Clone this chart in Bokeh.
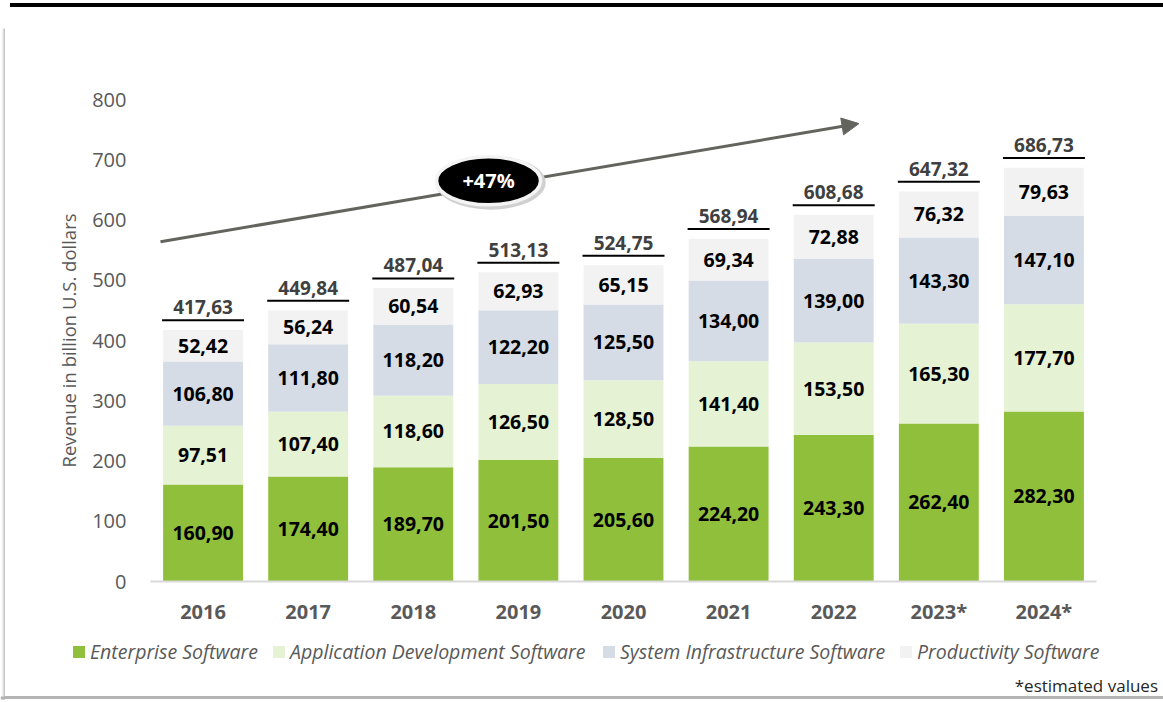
from bokeh.plotting import figure
from bokeh.layouts import row, column
from bokeh.models import (Range1d, FixedTicker, ColumnDataSource, Arrow, NormalHead,
                          BoxAnnotation, Div)
from bokeh.core.properties import value
from bokeh.embed import file_html
from bokeh.resources import INLINE

years = ["2016", "2017", "2018", "2019", "2020", "2021", "2022", "2023*", "2024*"]
enterprise = [160.90, 174.40, 189.70, 201.50, 205.60, 224.20, 243.30, 262.40, 282.30]
appdev = [97.51, 107.40, 118.60, 126.50, 128.50, 141.40, 153.50, 165.30, 177.70]
sysinfra = [106.80, 111.80, 118.20, 122.20, 125.50, 134.00, 139.00, 143.30, 147.10]
productivity = [52.42, 56.24, 60.54, 62.93, 65.15, 69.34, 72.88, 76.32, 79.63]
totals = [417.63, 449.84, 487.04, 513.13, 524.75, 568.94, 608.68, 647.32, 686.73]
series_names = ["Enterprise Software", "Application Development Software",
                "System Infrastructure Software", "Productivity Software"]
colors = ["#8fbf3b", "#e5f2d3", "#d6dce5", "#f2f2f2"]
y_ticks = [0, 100, 200, 300, 400, 500, 600, 700, 800]
growth_label = "+47%"
footnote = "*estimated values"
arrow_start = (-0.405, 564)
arrow_end = (6.24, 760)
bubble_pos = (2.716, 665)

FONT = "Open Sans"
W, H = 1163, 702
EDGE_W = 5
TOP_H = 30
CHART_H = 600
BOTTOM_H = H - TOP_H - CHART_H
FL, FR, FT, FB = 150, 1096, 99, 581          # frame edges in page pixels
LEGEND_SWATCH_X = [73, 273, 603, 900]         # legend layout (page pixels)
LEGEND_Y = 652


def fmt(v):
    return f"{v:.2f}".replace(".", ",")


# ---- left card edge (thin strip figure)
edge = figure(width=EDGE_W, height=H, output_backend="svg", toolbar_location=None,
              x_range=Range1d(0, EDGE_W), y_range=Range1d(H, 0), min_border=0)
edge.outline_line_color = None
edge.axis.visible = False
edge.grid.visible = False
for l, r, t, b, c in [(2, 3, 28, H - 3, "#e2e2e2"), (3, 5, 28, H - 3, "#c6c6c6"),
                      (0, 5, 696, 699, "#b4b4b4")]:
    edge.add_layout(BoxAnnotation(left=l, right=r, top=t, bottom=b, fill_color=c,
                                  fill_alpha=1, line_color=None))

# ---- top strip with black rule
top = Div(width=W - EDGE_W, height=TOP_H, margin=0,
          text=f'<div style="position:relative;width:{W - EDGE_W}px;height:{TOP_H}px">'
               f'<div style="position:absolute;left:{10 - EDGE_W}px;top:2.5px;'
               f'width:{W - 10}px;height:4.5px;background:#000"></div></div>')

# ---- main chart
x = list(range(len(years)))
src = ColumnDataSource(dict(x=x, ent=enterprise, app=appdev, sys=sysinfra, prod=productivity))

p = figure(width=W - EDGE_W, height=CHART_H, output_backend="svg", toolbar_location=None,
           x_range=Range1d(-0.5, len(years) - 0.5), y_range=Range1d(0, 800),
           min_border_left=FL - EDGE_W, min_border_right=W - FR, min_border_top=FT - TOP_H,
           min_border_bottom=TOP_H + CHART_H - FB)
p.outline_line_color = None
p.background_fill_color = "white"
p.border_fill_color = "white"
p.xgrid.visible = False
p.ygrid.visible = False

p.vbar_stack(["ent", "app", "sys", "prod"], x="x", width=0.76, color=colors,
             line_color=None, source=src)

bottoms = [0] * len(x)
for vals in [enterprise, appdev, sysinfra, productivity]:
    mids = [b + v / 2 for b, v in zip(bottoms, vals)]
    p.text(x=x, y=mids, text=[fmt(v) for v in vals], text_align="center",
           text_baseline="middle", text_font=value(FONT), text_font_style="bold",
           text_font_size="19.5px", text_color="black")
    bottoms = [b + v for b, v in zip(bottoms, vals)]

line_y = [t + 16 for t in totals]
p.segment(x0=[i - 0.39 for i in x], x1=[i + 0.39 for i in x], y0=line_y, y1=line_y,
          line_color="black", line_width=2)
p.text(x=x, y=line_y, text=[fmt(t) for t in totals], text_align="center",
       text_baseline="bottom", y_offset=-6, text_font=value(FONT), text_font_style="bold",
       text_font_size="19px", text_color="#404040")

p.add_layout(Arrow(end=NormalHead(size=17, fill_color="#64645f", line_color="#64645f"),
                   x_start=arrow_start[0], y_start=arrow_start[1],
                   x_end=arrow_end[0], y_end=arrow_end[1],
                   line_color="#64645f", line_width=3, level="underlay"))

bx, by = bubble_pos
p.ellipse(x=[bx + 0.02], y=[by - 3], width=[110], height=[54], width_units="screen",
          height_units="screen", fill_color="#d0d0d0", line_color=None)
p.ellipse(x=[bx], y=[by], width=[104], height=[48], width_units="screen", height_units="screen",
          fill_color="black", line_color="#f4f4f4", line_width=3.5)
p.text(x=[bx], y=[by], text=[growth_label], text_align="center", text_baseline="middle",
       text_font=value(FONT), text_font_style="bold", text_font_size="20px", text_color="white")

p.yaxis.ticker = FixedTicker(ticks=y_ticks)
p.yaxis.axis_line_color = None
p.yaxis.major_tick_line_color = None
p.yaxis.minor_tick_line_color = None
p.yaxis.major_label_text_font = FONT
p.yaxis.major_label_text_font_size = "20px"
p.yaxis.major_label_text_color = "#595959"
p.yaxis.major_label_standoff = 18
p.yaxis.axis_label = "Revenue in billion U.S. dollars"
p.yaxis.axis_label_text_font = FONT
p.yaxis.axis_label_text_font_size = "18.5px"
p.yaxis.axis_label_text_font_style = "normal"
p.yaxis.axis_label_text_color = "#595959"
p.yaxis.axis_label_standoff = 8

p.xaxis.ticker = FixedTicker(ticks=x)
p.xaxis.major_label_overrides = {i: yy for i, yy in zip(x, years)}
p.xaxis.axis_line_color = "#d9d9d9"
p.xaxis.axis_line_width = 2
p.xaxis.major_tick_line_color = None
p.xaxis.minor_tick_line_color = None
p.xaxis.major_label_text_font = FONT
p.xaxis.major_label_text_font_style = "bold"
p.xaxis.major_label_text_font_size = "20px"
p.xaxis.major_label_text_color = "#595959"
p.xaxis.major_label_standoff = 10

# ---- legend strip (HTML)
y0 = TOP_H + CHART_H
parts = []
for name, c, lx in zip(series_names, colors, LEGEND_SWATCH_X):
    parts.append(f'<div style="position:absolute;left:{lx - EDGE_W}px;top:{LEGEND_Y - 6 - y0}px;'
                 f'width:12px;height:12px;background:{c}"></div>')
    parts.append(f'<div style="position:absolute;left:{lx + 17 - EDGE_W}px;'
                 f'top:{LEGEND_Y - 12 - y0}px;height:24px;line-height:24px;white-space:nowrap;'
                 f'font-style:italic;font-size:19.5px;color:#595959">{name}</div>')
parts.append(f'<div style="position:absolute;right:5px;top:{686 - 12 - y0}px;height:24px;'
             f'line-height:24px;white-space:nowrap;font-size:17px;color:#262626">{footnote}</div>')
parts.append(f'<div style="position:absolute;left:0px;top:{696 - y0}px;width:{W - EDGE_W}px;'
             f'height:3px;background:#b4b4b4"></div>')
bottom = Div(width=W - EDGE_W, height=BOTTOM_H, margin=0,
             text=f'<div style="position:relative;width:{W - EDGE_W}px;height:{BOTTOM_H}px;'
                  f'font-family:\'{FONT}\'">' + "".join(parts) + '</div>')

layout = row(edge, column(top, p, bottom, spacing=0), spacing=0)
open("out.html", "w").write(file_html(layout, INLINE))
